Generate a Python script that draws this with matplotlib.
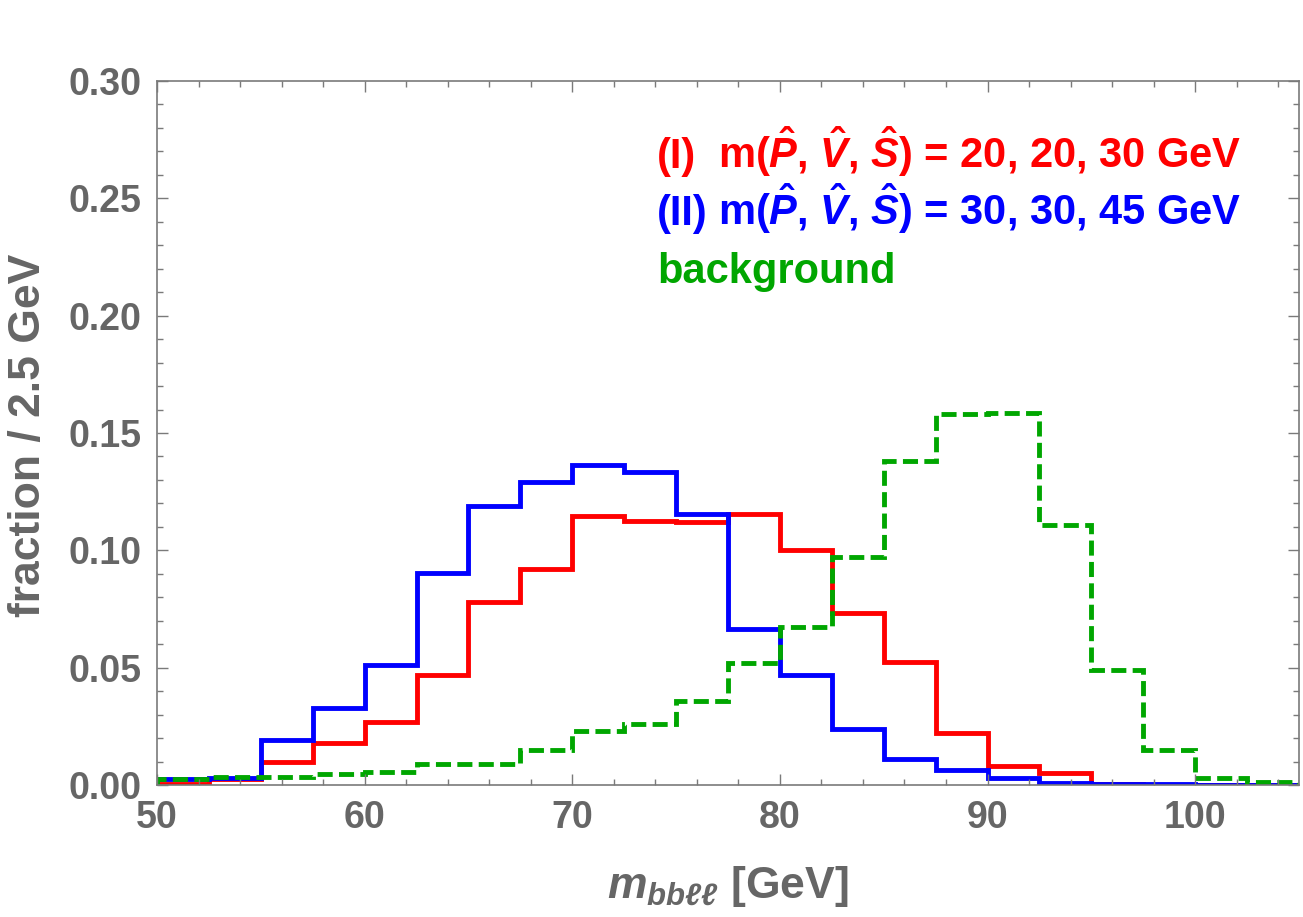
import numpy as np
import matplotlib
matplotlib.use('Agg')
import matplotlib.pyplot as plt
from matplotlib.ticker import MultipleLocator

# 2.5 GeV bins from 50 to 105
bin_edges = [50.0, 52.5, 55.0, 57.5, 60.0, 62.5, 65.0, 67.5, 70.0, 72.5, 75.0, 77.5,
             80.0, 82.5, 85.0, 87.5, 90.0, 92.5, 95.0, 97.5, 100.0, 102.5, 105.0]

# (I) m(P,V,S) = 20, 20, 30 GeV
frac_I = [0.0005, 0.0025, 0.010, 0.018, 0.027, 0.047, 0.078, 0.092, 0.1145, 0.1125, 0.112,
          0.1155, 0.100, 0.0735, 0.0525, 0.022, 0.008, 0.005, 0.0003, 0.0, 0.0, 0.0]
# (II) m(P,V,S) = 30, 30, 45 GeV
frac_II = [0.0025, 0.003, 0.019, 0.033, 0.051, 0.0905, 0.119, 0.129, 0.1365, 0.1335, 0.1155,
           0.0665, 0.047, 0.024, 0.011, 0.0065, 0.003, 0.001, 0.0005, 0.0003, 0.0002, 0.0002]
# background
frac_bg = [0.0027, 0.0035, 0.0035, 0.0047, 0.0055, 0.009, 0.009, 0.015, 0.0228, 0.026, 0.036,
           0.052, 0.0675, 0.097, 0.138, 0.158, 0.1585, 0.111, 0.049, 0.015, 0.003, 0.0012]

label_I = r'm($\hat{P}$, $\hat{V}$, $\hat{S}$) = 20, 20, 30 GeV'
label_II = r'm($\hat{P}$, $\hat{V}$, $\hat{S}$) = 30, 30, 45 GeV'
label_bg = 'background'

plt.rcParams['font.family'] = ['Liberation Sans', 'DejaVu Sans']
plt.rcParams['font.weight'] = 'bold'
plt.rcParams['mathtext.fontset'] = 'custom'
plt.rcParams['mathtext.rm'] = 'Liberation Sans:bold'
plt.rcParams['mathtext.it'] = 'Liberation Sans:italic:bold'
plt.rcParams['mathtext.bf'] = 'Liberation Sans:bold'

W, H = 1303, 917
gray = '#666666'
frame = '#7a7a7a'

fig = plt.figure(figsize=(W / 100, H / 100), dpi=100)
ax = fig.add_axes([157 / W, 1 - 785 / H, (1299 - 157) / W, (785 - 81) / H])

ax.stairs(frac_I, bin_edges, color='#ff0000', linewidth=3.5)
ax.stairs(frac_II, bin_edges, color='#0000ff', linewidth=3.5)
ax.stairs(frac_bg, bin_edges, color='#00a600', linewidth=3.5, linestyle=(0, (3.1, 1.3)))

ax.set_xlim(50, 105)
ax.set_ylim(0, 0.30)
ax.xaxis.set_major_locator(MultipleLocator(10))
ax.xaxis.set_minor_locator(MultipleLocator(2))
ax.yaxis.set_major_locator(MultipleLocator(0.05))
ax.yaxis.set_minor_locator(MultipleLocator(0.01))
ax.yaxis.set_major_formatter(matplotlib.ticker.FormatStrFormatter('%.2f'))

for s in ax.spines.values():
    s.set_color(frame)
    s.set_linewidth(1.2)
ax.tick_params(which='both', direction='in', top=True, right=True, color=frame, width=1.0)
ax.tick_params(which='major', length=8, labelsize=27, labelcolor=gray, pad=11)
ax.tick_params(which='minor', length=4.5)
for lab in ax.get_xticklabels() + ax.get_yticklabels():
    lab.set_fontweight('bold')

# axis labels
fig.text(728 / W, 1 - 898 / H, r'$m_{bb\ell\ell}$ [GeV]', color=gray, fontsize=32,
         fontweight='bold', ha='center', va='baseline')
fig.text(29 / W, 1 - 435 / H, 'fraction / 2.5 GeV', color=gray, fontsize=32,
         fontweight='bold', ha='center', va='center', rotation=90)

# legend text
fig.text(657 / W, 1 - 168 / H, '(I)', color='#ff0000', fontsize=30, va='baseline')
fig.text(718 / W, 1 - 168 / H, label_I, color='#ff0000', fontsize=30, va='baseline')
fig.text(657 / W, 1 - 225 / H, '(II)', color='#0000ff', fontsize=30, va='baseline')
fig.text(718 / W, 1 - 225 / H, label_II, color='#0000ff', fontsize=30, va='baseline')
fig.text(657 / W, 1 - 283 / H, label_bg, color='#00a600', fontsize=30, va='baseline')

fig.savefig('out.png', dpi=100)
